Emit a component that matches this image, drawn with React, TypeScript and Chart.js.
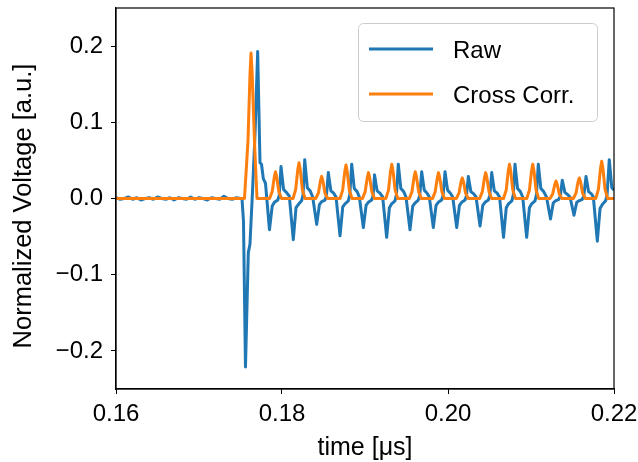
import { useEffect, useRef } from 'react';
import { Chart, registerables } from 'chart.js';

Chart.register(...registerables);

// ---- data (time in μs, normalized voltage in a.u.) ----
const rawTime = [
  0.1600, 0.1605, 0.1610, 0.1615, 0.1620, 0.1625, 0.1630, 0.1635, 0.1640, 0.1645,
  0.1650, 0.1655, 0.1660, 0.1665, 0.1670, 0.1675, 0.1680, 0.1685, 0.1690, 0.1695,
  0.1700, 0.1705, 0.1710, 0.1715, 0.1720, 0.1725, 0.1730, 0.1735, 0.1740, 0.1745, 0.1750,
  0.17518, 0.17536, 0.17560, 0.17594, 0.17614, 0.17645, 0.17675, 0.17707, 0.17735, 0.17753, 0.17775, 0.17801,
  0.17849, 0.17882, 0.17909, 0.17949, 0.17967, 0.17988, 0.18019, 0.18053, 0.18088,
  0.18136, 0.18169, 0.18196, 0.18236, 0.18254, 0.18274, 0.18305, 0.18339, 0.18370,
  0.18418, 0.18451, 0.18478, 0.18518, 0.18536, 0.18558, 0.18589, 0.18623, 0.18651,
  0.18699, 0.18732, 0.18759, 0.18799, 0.18817, 0.18840, 0.18871, 0.18905, 0.18932,
  0.18980, 0.19013, 0.19040, 0.19080, 0.19098, 0.19115, 0.19146, 0.19180, 0.19213,
  0.19261, 0.19294, 0.19321, 0.19361, 0.19379, 0.19401, 0.19432, 0.19466, 0.19494,
  0.19542, 0.19575, 0.19602, 0.19642, 0.19660, 0.19683, 0.19714, 0.19748, 0.19775,
  0.19823, 0.19856, 0.19883, 0.19923, 0.19941, 0.19964, 0.19995, 0.20029, 0.20057,
  0.20105, 0.20138, 0.20165, 0.20205, 0.20223, 0.20245, 0.20276, 0.20310, 0.20338,
  0.20386, 0.20419, 0.20446, 0.20486, 0.20504, 0.20527, 0.20558, 0.20592, 0.20621,
  0.20669, 0.20702, 0.20729, 0.20769, 0.20787, 0.20807, 0.20838, 0.20872, 0.20900,
  0.20948, 0.20981, 0.21008, 0.21048, 0.21066, 0.21088, 0.21119, 0.21153, 0.21187,
  0.21235, 0.21268, 0.21295, 0.21335, 0.21353, 0.21377, 0.21408, 0.21442, 0.21470,
  0.21518, 0.21551, 0.21578, 0.21618, 0.21636, 0.21663, 0.21694, 0.21728, 0.21751,
  0.21799, 0.21832, 0.21859, 0.21899, 0.21917, 0.21943, 0.21974, 0.22000,
];
const rawValue = [
  0.001, -0.001, 0.000, 0.002, -0.001, 0.001, -0.002, 0.000, 0.001, -0.001,
  0.002, 0.000, -0.001, 0.001, -0.002, 0.001, 0.000, -0.001, 0.002, -0.001,
  0.001, 0.000, -0.002, 0.001, 0.000, -0.001, 0.003, 0.000, -0.001, 0.001, 0.000,
  0.000, -0.030, -0.221, -0.071, -0.060, 0.010, 0.085, 0.193, 0.047, 0.045, 0.026, 0.020,
  -0.041, -0.010, -0.005, -0.002, 0.004, 0.042, 0.012, 0.008, 0.003,
  -0.054, -0.012, -0.008, -0.003, 0.005, 0.051, 0.014, 0.010, 0.002,
  -0.034, -0.008, -0.004, -0.002, 0.004, 0.034, 0.010, 0.007, 0.002,
  -0.049, -0.011, -0.007, -0.003, 0.005, 0.045, 0.013, 0.009, 0.002,
  -0.038, -0.009, -0.005, -0.002, 0.004, 0.031, 0.010, 0.007, 0.002,
  -0.051, -0.012, -0.007, -0.003, 0.005, 0.045, 0.013, 0.009, 0.002,
  -0.041, -0.010, -0.006, -0.002, 0.004, 0.035, 0.011, 0.007, 0.002,
  -0.038, -0.009, -0.005, -0.002, 0.004, 0.035, 0.011, 0.007, 0.002,
  -0.038, -0.009, -0.005, -0.002, 0.004, 0.029, 0.009, 0.006, 0.002,
  -0.036, -0.009, -0.005, -0.002, 0.004, 0.034, 0.010, 0.007, 0.002,
  -0.051, -0.012, -0.007, -0.003, 0.005, 0.045, 0.013, 0.009, 0.002,
  -0.051, -0.012, -0.007, -0.003, 0.005, 0.045, 0.013, 0.009, 0.002,
  -0.027, -0.006, -0.003, -0.001, 0.003, 0.024, 0.008, 0.005, 0.002,
  -0.022, -0.005, -0.003, -0.001, 0.003, 0.029, 0.009, 0.006, 0.002,
  -0.056, -0.013, -0.008, -0.003, 0.005, 0.051, 0.014, 0.011,
];

const corrTime = [
  0.16000, 0.17548, 0.17590, 0.17615, 0.17627, 0.17640, 0.17670, 0.17699,
  0.17850, 0.17882, 0.17907, 0.17922, 0.17937, 0.17962, 0.17994,
  0.18133, 0.18165, 0.18190, 0.18205, 0.18220, 0.18245, 0.18277,
  0.18406, 0.18438, 0.18463, 0.18478, 0.18493, 0.18518, 0.18550,
  0.18699, 0.18731, 0.18756, 0.18771, 0.18786, 0.18811, 0.18843,
  0.18970, 0.19002, 0.19027, 0.19042, 0.19057, 0.19082, 0.19114,
  0.19251, 0.19283, 0.19308, 0.19323, 0.19338, 0.19363, 0.19395,
  0.19534, 0.19566, 0.19591, 0.19606, 0.19621, 0.19646, 0.19678,
  0.19814, 0.19846, 0.19871, 0.19886, 0.19901, 0.19926, 0.19958,
  0.20100, 0.20132, 0.20157, 0.20172, 0.20187, 0.20212, 0.20244,
  0.20382, 0.20414, 0.20439, 0.20454, 0.20469, 0.20494, 0.20526,
  0.20669, 0.20701, 0.20726, 0.20741, 0.20756, 0.20781, 0.20813,
  0.20949, 0.20981, 0.21006, 0.21021, 0.21036, 0.21061, 0.21093,
  0.21229, 0.21261, 0.21286, 0.21301, 0.21316, 0.21341, 0.21373,
  0.21510, 0.21542, 0.21567, 0.21582, 0.21597, 0.21622, 0.21654,
  0.21780, 0.21812, 0.21837, 0.21852, 0.21867, 0.21892, 0.21924,
  0.22000,
];
const corrValue = [
  0, 0, 0.075, 0.165, 0.191, 0.165, 0.070, 0,
  0, 0.009, 0.028, 0.035, 0.028, 0.009, 0,
  0, 0.012, 0.038, 0.047, 0.038, 0.012, 0,
  0, 0.007, 0.023, 0.029, 0.023, 0.007, 0,
  0, 0.011, 0.035, 0.044, 0.035, 0.011, 0,
  0, 0.009, 0.027, 0.034, 0.027, 0.009, 0,
  0, 0.011, 0.036, 0.045, 0.036, 0.011, 0,
  0, 0.009, 0.028, 0.035, 0.028, 0.009, 0,
  0, 0.009, 0.027, 0.034, 0.027, 0.009, 0,
  0, 0.007, 0.022, 0.027, 0.022, 0.007, 0,
  0, 0.009, 0.027, 0.034, 0.027, 0.009, 0,
  0, 0.011, 0.036, 0.045, 0.036, 0.011, 0,
  0, 0.011, 0.036, 0.045, 0.036, 0.011, 0,
  0, 0.006, 0.018, 0.023, 0.018, 0.006, 0,
  0, 0.007, 0.022, 0.027, 0.022, 0.007, 0,
  0, 0.012, 0.039, 0.049, 0.039, 0.012, 0,
  0,
];

const seriesLabels = ['Raw', 'Cross Corr.'];
const xTicks = [0.16, 0.18, 0.2, 0.22];
const yTicks = [-0.2, -0.1, 0.0, 0.1, 0.2];
const xTitle = 'time [μs]';
const yTitle = 'Normalized Voltage [a.u.]';

const COLORS = ['#1f77b4', '#ff7f0e'];
const FONT = "'Liberation Sans', Arial, sans-serif";

const toPoints = (xs: number[], ys: number[]) => xs.map((x, i) => ({ x, y: ys[i] }));

export default function App() {
  const ref = useRef<HTMLCanvasElement>(null);

  useEffect(() => {
    const canvas = ref.current;
    if (!canvas) return;

    const framePlugin = {
      id: 'frame',
      afterDatasetsDraw(chart: any) {
        const { ctx, chartArea: a } = chart;
        ctx.save();
        ctx.strokeStyle = '#000';
        ctx.lineWidth = 1.2;
        ctx.strokeRect(a.left, a.top, a.right - a.left, a.bottom - a.top);
        ctx.restore();
      },
    };

    const yTitlePlugin = {
      id: 'yTitle',
      afterDraw(chart: any) {
        const { ctx } = chart;
        ctx.save();
        ctx.translate(24, 206);
        ctx.rotate(-Math.PI / 2);
        ctx.fillStyle = '#000';
        ctx.font = `25.5px ${FONT}`;
        ctx.textAlign = 'center';
        ctx.textBaseline = 'middle';
        ctx.fillText(yTitle, 0, 0);
        ctx.restore();
      },
    };

    const legendPlugin = {
      id: 'mplLegend',
      afterDraw(chart: any) {
        const { ctx } = chart;
        const ds = chart.data.datasets;
        ctx.save();
        ctx.beginPath();
        (ctx as any).roundRect(358.5, 23.5, 239, 98, 5);
        ctx.fillStyle = 'rgba(255,255,255,0.8)';
        ctx.fill();
        ctx.strokeStyle = '#cccccc';
        ctx.lineWidth = 1;
        ctx.stroke();
        const rows = [49, 94];
        ds.forEach((d: any, i: number) => {
          const y = rows[i];
          ctx.beginPath();
          ctx.strokeStyle = d.borderColor;
          ctx.lineWidth = 3;
          ctx.moveTo(369, y);
          ctx.lineTo(433, y);
          ctx.stroke();
          ctx.fillStyle = '#000';
          ctx.font = `24px ${FONT}`;
          ctx.textAlign = 'left';
          ctx.textBaseline = 'alphabetic';
          ctx.fillText(d.label, 453, y + 9);
        });
        ctx.restore();
      },
    };

    const chart = new Chart(canvas, {
      type: 'line',
      data: {
        datasets: [
          {
            label: seriesLabels[0],
            data: toPoints(rawTime, rawValue),
            borderColor: COLORS[0],
            backgroundColor: COLORS[0],
            borderWidth: 3,
            pointRadius: 0,
            tension: 0,
            borderJoinStyle: 'round',
            order: 1,
          },
          {
            label: seriesLabels[1],
            data: toPoints(corrTime, corrValue),
            borderColor: COLORS[1],
            backgroundColor: COLORS[1],
            borderWidth: 3,
            pointRadius: 0,
            tension: 0,
            borderJoinStyle: 'round',
            order: 0,
          },
        ],
      },
      options: {
        responsive: false,
        animation: false,
        events: [],
        layout: { padding: { left: 0, top: 8, right: 24, bottom: 0 } },
        plugins: { legend: { display: false }, tooltip: { enabled: false } },
        scales: {
          x: {
            type: 'linear',
            min: 0.16,
            max: 0.22,
            afterBuildTicks: (scale: any) => {
              scale.ticks = xTicks.map((value) => ({ value }));
            },
            afterFit: (scale: any) => {
              scale.height = 73;
              scale.paddingLeft = 0;
              scale.paddingRight = 0;
            },
            ticks: {
              autoSkip: false,
              maxRotation: 0,
              padding: 6,
              color: '#000',
              font: { family: FONT, size: 24 },
              callback: (v: any) => Number(v).toFixed(2),
            },
            grid: {
              drawOnChartArea: false,
              drawTicks: true,
              tickLength: 5,
              color: '#000',
              lineWidth: 1,
            },
            border: { display: true, color: '#000', width: 1.2 },
            title: {
              display: true,
              text: xTitle,
              color: '#000',
              font: { family: FONT, size: 25, lineHeight: 0.88 },
              padding: { top: 0, bottom: 3 },
            },
          },
          y: {
            type: 'linear',
            min: -0.25,
            max: 0.25,
            afterBuildTicks: (scale: any) => {
              scale.ticks = yTicks.map((value) => ({ value }));
            },
            afterFit: (scale: any) => {
              scale.width = 116;
              scale.paddingTop = 0;
              scale.paddingBottom = 0;
            },
            ticks: {
              autoSkip: false,
              padding: 8,
              color: '#000',
              font: { family: FONT, size: 24 },
              callback: (v: any) => {
                const n = Number(v);
                const s = Math.abs(n).toFixed(1);
                return n < -1e-9 ? '\u2212' + s : s;
              },
            },
            grid: {
              drawOnChartArea: false,
              drawTicks: true,
              tickLength: 5,
              color: '#000',
              lineWidth: 1,
            },
            border: { display: true, color: '#000', width: 1.2 },
            title: { display: false },
          },
        },
      } as any,
      plugins: [framePlugin, yTitlePlugin, legendPlugin],
    });

    return () => chart.destroy();
  }, []);

  return (
    <div style={{ position: 'absolute', left: 0, top: 0, width: 638, height: 462 }}>
      <canvas ref={ref} width={638} height={462} style={{ display: 'block', width: 638, height: 462 }} />
    </div>
  );
}
